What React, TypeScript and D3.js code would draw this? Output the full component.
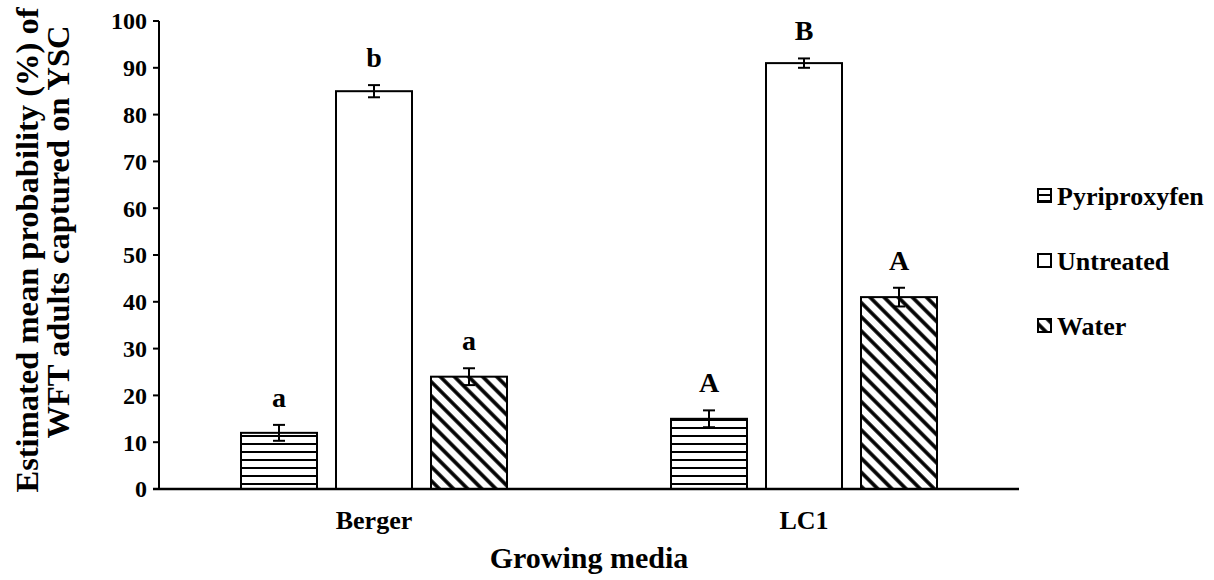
import React from "react";
import * as d3 from "d3";

const categories = ["Berger", "LC1"];
const seriesNames = ["Pyriproxyfen", "Untreated", "Water"];
const pyriproxyfen = [12, 15];
const untreated = [85, 91];
const water = [24, 41];
const pyriproxyfenErr = [1.7, 1.8];
const untreatedErr = [1.3, 1.0];
const waterErr = [1.8, 2.0];
const pyriproxyfenLetters = ["a", "A"];
const untreatedLetters = ["b", "B"];
const waterLetters = ["a", "A"];
const yTicks = [0, 10, 20, 30, 40, 50, 60, 70, 80, 90, 100];

const FONT = "'Liberation Serif', 'Times New Roman', serif";

export default function App() {
  const W = 1214, H = 580;
  const left = 159, right = 1019, top = 21, bottom = 489;
  const x0 = d3.scaleBand<string>().domain(categories).range([left, right]).padding(0);
  const groupW = 266;
  const x1 = d3.scaleBand<string>().domain(seriesNames).range([0, groupW]).paddingInner(0.2).paddingOuter(0);
  const y = d3.scaleLinear().domain([0, 100]).range([bottom, top]);

  const seriesVals = [pyriproxyfen, untreated, water];
  const seriesErr = [pyriproxyfenErr, untreatedErr, waterErr];
  const seriesLetters = [pyriproxyfenLetters, untreatedLetters, waterLetters];
  const fills = ["url(#hpat)", "#ffffff", "url(#dpat)"];

  const bars: any[] = [];
  categories.forEach((c, ci) => {
    const gx = (x0(c) as number) + (x0.bandwidth() - groupW) / 2;
    seriesNames.forEach((s, si) => {
      const v = seriesVals[si][ci];
      const e = seriesErr[si][ci];
      const bx = gx + (x1(s) as number);
      const bw = x1.bandwidth();
      const cx = bx + bw / 2;
      bars.push(
        <g key={c + s}>
          <rect x={bx} y={y(v)} width={bw} height={y(0) - y(v)} fill={fills[si]} stroke="#000" strokeWidth={2} />
          <line x1={cx} x2={cx} y1={y(v - e)} y2={y(v + e)} stroke="#000" strokeWidth={2} />
          <line x1={cx - 6} x2={cx + 6} y1={y(v + e)} y2={y(v + e)} stroke="#000" strokeWidth={2} />
          <line x1={cx - 6} x2={cx + 6} y1={y(v - e)} y2={y(v - e)} stroke="#000" strokeWidth={2} />
          <text x={cx} y={y(v + e) - 18} textAnchor="middle" fontFamily={FONT} fontWeight="bold" fontSize={28}>
            {seriesLetters[si][ci]}
          </text>
        </g>
      );
    });
  });

  const legendY = [196, 261, 326];

  return (
    <svg width={W} height={H} style={{ position: "absolute", left: 0, top: 0, background: "#fff" }}>
      <defs>
        <pattern id="hpat" patternUnits="userSpaceOnUse" width={8} height={8}>
          <rect width={8} height={8} fill="#fff" />
          <line x1={0} x2={8} y1={4} y2={4} stroke="#000" strokeWidth={2} />
        </pattern>
        <pattern id="dpat" patternUnits="userSpaceOnUse" width={10} height={10} patternTransform="rotate(45)">
          <rect width={10} height={10} fill="#fff" />
          <line x1={0} x2={10} y1={5} y2={5} stroke="#000" strokeWidth={3.6} />
        </pattern>
        <pattern id="hpatS" patternUnits="userSpaceOnUse" width={6} height={6}>
          <rect width={6} height={6} fill="#fff" />
          <line x1={0} x2={6} y1={3} y2={3} stroke="#000" strokeWidth={2} />
        </pattern>
      </defs>
      <rect width={W} height={H} fill="#fff" />
      {bars}
      <line x1={left} x2={left} y1={top} y2={bottom} stroke="#000" strokeWidth={2} />
      <line x1={left - 6} x2={right} y1={bottom} y2={bottom} stroke="#000" strokeWidth={2.5} />
      {yTicks.map((t) => (
        <g key={t}>
          <line x1={left - 6} x2={left} y1={y(t)} y2={y(t)} stroke="#000" strokeWidth={2} />
          <text x={left - 12} y={y(t)} dy="0.35em" textAnchor="end" fontFamily={FONT} fontWeight="bold" fontSize={24}>
            {t}
          </text>
        </g>
      ))}
      {categories.map((c) => (
        <text key={c} x={(x0(c) as number) + x0.bandwidth() / 2} y={529} textAnchor="middle" fontFamily={FONT} fontWeight="bold" fontSize={26}>
          {c}
        </text>
      ))}
      <text x={(left + right) / 2} y={568} textAnchor="middle" fontFamily={FONT} fontWeight="bold" fontSize={30}>
        Growing media
      </text>
      <text transform="translate(38, 250) rotate(-90)" textAnchor="middle" fontFamily={FONT} fontWeight="bold" fontSize={32.5}>
        Estimated mean probability (%) of
      </text>
      <text transform="translate(69, 232) rotate(-90)" textAnchor="middle" fontFamily={FONT} fontWeight="bold" fontSize={32.5}>
        WFT adults captured on YSC
      </text>
      {seriesNames.map((s, i) => (
        <g key={s}>
          <rect x={1038} y={legendY[i] - 7} width={13} height={13} fill={i === 0 ? "url(#hpatS)" : fills[i]} stroke="#000" strokeWidth={2} />
          <text x={1057} y={legendY[i]} dy="0.35em" fontFamily={FONT} fontWeight="bold" fontSize={26}>
            {s}
          </text>
        </g>
      ))}
    </svg>
  );
}
